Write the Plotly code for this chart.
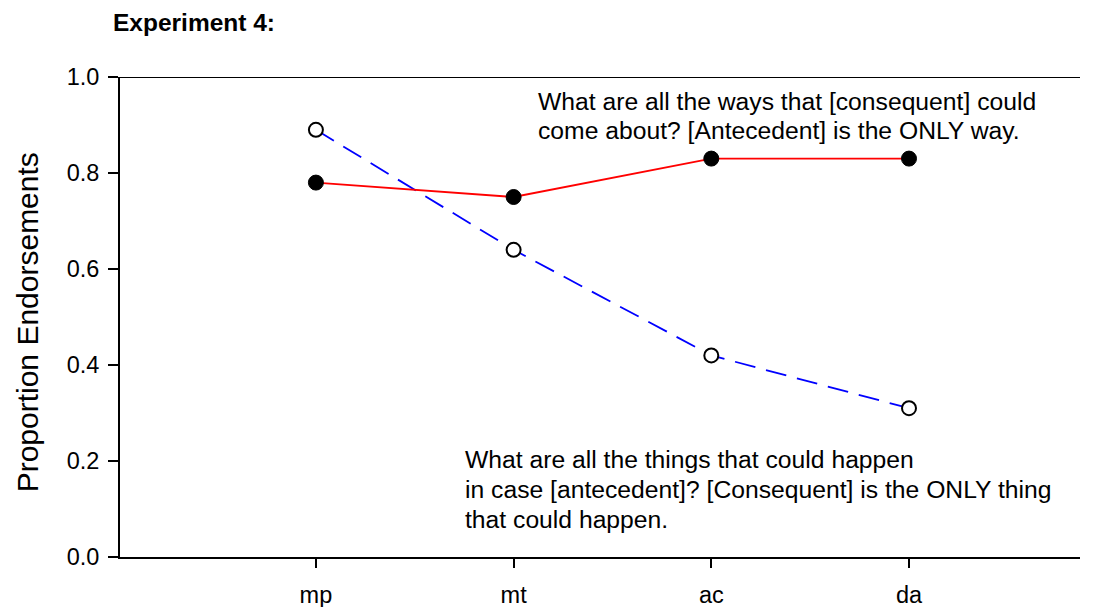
import plotly.graph_objects as go

categories = ["mp", "mt", "ac", "da"]
only_way = [0.78, 0.75, 0.83, 0.83]        # red, filled markers
only_thing = [0.89, 0.64, 0.42, 0.31]      # blue dashed, open markers
y_ticks = [0.0, 0.2, 0.4, 0.6, 0.8, 1.0]
y_tick_labels = ["0.0", "0.2", "0.4", "0.6", "0.8", "1.0"]
note_top = ["What are all the ways that [consequent] could",
            "come about? [Antecedent] is the ONLY way."]
note_bottom = ["What are all the things that could happen",
               "in case [antecedent]? [Consequent] is the ONLY thing",
               "that could happen."]

FONT = "Liberation Sans, Arial, sans-serif"
W, H = 1087, 599   # page body has an 8px margin

fig = go.Figure()
fig.add_trace(go.Scatter(
    x=categories, y=only_thing, mode="lines+markers",
    line=dict(color="#0000ff", width=1.8, dash="21px,11px"),
    marker=dict(symbol="circle", size=14, color="white",
                line=dict(color="black", width=2)),
    showlegend=False, cliponaxis=False))
fig.add_trace(go.Scatter(
    x=categories, y=only_way, mode="lines+markers",
    line=dict(color="#ff0000", width=1.8),
    marker=dict(symbol="circle", size=15, color="black",
                line=dict(color="black", width=1)),
    showlegend=False, cliponaxis=False))

# top border line
fig.add_shape(type="line", xref="paper", yref="y", x0=0, x1=1, y0=1, y1=1,
              line=dict(color="black", width=2))

for i, t in enumerate(note_top):
    fig.add_annotation(x=1.113, y=0.950 - i * 0.061, xref="x", yref="y",
                       text=t, showarrow=False, xanchor="left", yanchor="middle",
                       font=dict(family=FONT, size=24.7, color="black"))
for i, t in enumerate(note_bottom):
    fig.add_annotation(x=0.744, y=0.2025 - i * 0.0627, xref="x", yref="y",
                       text=t, showarrow=False, xanchor="left", yanchor="middle",
                       font=dict(family=FONT, size=24.7, color="black"))

fig.add_annotation(x=-0.096, y=0.4885, xref="paper", yref="paper",
                   text="Proportion Endorsements", textangle=-90, showarrow=False,
                   xanchor="center", yanchor="middle",
                   font=dict(family=FONT, size=30, color="black"))

fig.update_layout(
    width=W, height=H,
    margin=dict(l=112, r=15, t=69, b=50),
    paper_bgcolor="white", plot_bgcolor="white",
    title=dict(text="<b>Experiment 4:</b>", x=105 / W, xref="container",
               xanchor="left",
               y=1 - 14 / H, yref="container", yanchor="middle",
               font=dict(family=FONT, size=24.5, color="black")),
    xaxis=dict(type="category", categoryorder="array", categoryarray=categories,
               range=[-0.991, 3.865], showgrid=False, zeroline=False,
               showline=True, linecolor="black", linewidth=2,
               ticks="outside", ticklen=9, tickwidth=1.5, tickcolor="black",
               ticklabelstandoff=7, automargin=False,
               tickfont=dict(family=FONT, size=23.5, color="black")),
    yaxis=dict(range=[0, 1], tickvals=y_ticks, ticktext=y_tick_labels,
               showgrid=False, zeroline=False,
               showline=True, linecolor="black", linewidth=2,
               ticks="outside", ticklen=10, tickwidth=1.5, tickcolor="black",
               ticklabelstandoff=4, automargin=False,
               tickfont=dict(family=FONT, size=23.5, color="black")),
)

fig.write_html("out.html")
